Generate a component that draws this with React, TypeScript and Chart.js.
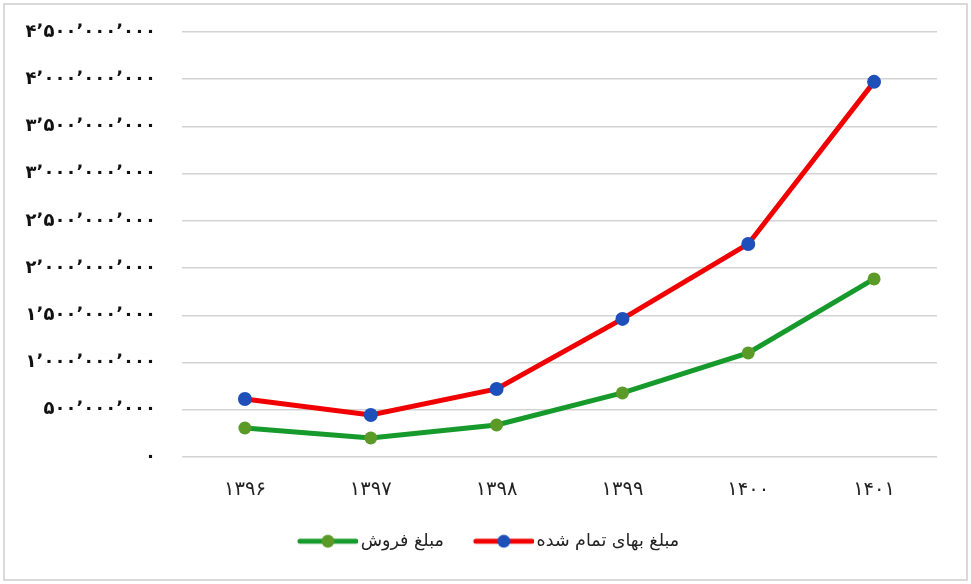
import { useEffect, useRef } from "react";
import { Chart, registerables } from "chart.js";

Chart.register(...registerables);

const categories = ["۱۳۹۶", "۱۳۹۷", "۱۳۹۸", "۱۳۹۹", "۱۴۰۰", "۱۴۰۱"];
const costValues = [614e6, 445e6, 720e6, 1462e6, 2256e6, 3972e6];
const salesValues = [307e6, 201e6, 339e6, 678e6, 1102e6, 1886e6];
const seriesLabels = ["مبلغ بهای تمام شده", "مبلغ فروش"];
const yMax = 4.5e9;
const yStep = 5e8;

const persianDigits = "۰۱۲۳۴۵۶۷۸۹";
function toPersian(n: number): string {
  const s = Math.round(n)
    .toString()
    .replace(/\B(?=(\d{3})+(?!\d))/g, "٬");
  return s.replace(/\d/g, (d) => persianDigits[+d]);
}

function makeLegendSymbol(lineColor: string, dotColor: string): HTMLCanvasElement {
  const c = document.createElement("canvas");
  c.width = 72;
  c.height = 16;
  const ctx = c.getContext("2d")!;
  ctx.strokeStyle = lineColor;
  ctx.lineWidth = 5;
  ctx.lineCap = "round";
  ctx.beginPath();
  ctx.moveTo(14, 8);
  ctx.lineTo(70, 8);
  ctx.stroke();
  ctx.fillStyle = dotColor;
  ctx.beginPath();
  ctx.arc(42, 8, 6.5, 0, Math.PI * 2);
  ctx.fill();
  return c;
}

export default function App() {
  const canvasRef = useRef<HTMLCanvasElement | null>(null);

  useEffect(() => {
    if (!canvasRef.current) return;
    const redLine = "#f00000";
    const blueDot = "#1f4fb8";
    const greenLine = "#179a2c";
    const greenDot = "#5b9a26";
    const symbols = [makeLegendSymbol(redLine, blueDot), makeLegendSymbol(greenLine, greenDot)];

    const chart = new Chart(canvasRef.current, {
      type: "line",
      data: {
        labels: categories,
        datasets: [
          {
            label: seriesLabels[0],
            data: costValues,
            borderColor: redLine,
            backgroundColor: blueDot,
            pointBackgroundColor: blueDot,
            pointBorderColor: blueDot,
            borderWidth: 5,
            pointRadius: 7,
            pointBorderWidth: 0,
            tension: 0,
          },
          {
            label: seriesLabels[1],
            data: salesValues,
            borderColor: greenLine,
            backgroundColor: greenDot,
            pointBackgroundColor: greenDot,
            pointBorderColor: greenDot,
            borderWidth: 5,
            pointRadius: 6.5,
            pointBorderWidth: 0,
            tension: 0,
          },
        ],
      },
      options: {
        animation: false,
        responsive: true,
        maintainAspectRatio: false,
        layout: { padding: { top: 32, right: 0, left: 0, bottom: 24 } },
        plugins: {
          tooltip: { enabled: false },
          legend: {
            position: "bottom",
            reverse: true,
            labels: {
              usePointStyle: true,
              pointStyleWidth: 60,
              padding: 24,
              color: "#222",
              font: { family: "DejaVu Sans", size: 17.5 },
              generateLabels: (ch: any) =>
                ch.data.datasets.map((ds: any, i: number) => ({
                  text: ds.label,
                  pointStyle: symbols[i],
                  fillStyle: ds.borderColor,
                  strokeStyle: ds.borderColor,
                  lineWidth: 0,
                  hidden: false,
                  datasetIndex: i,
                  fontColor: "#222",
                })),
            },
          },
        },
        scales: {
          x: {
            offset: true,
            grid: { display: false, drawTicks: false },
            border: { display: false },
            ticks: {
              padding: 21,
              color: "#222",
              font: { family: "DejaVu Sans", size: 19.5 },
            },
            afterFit: (scale: any) => {
              scale.height = 51.5;
            },
          },
          y: {
            min: 0,
            max: yMax,
            grid: { color: "#d3d3d3", lineWidth: 1.5, drawTicks: false },
            border: { display: false },
            ticks: {
              stepSize: yStep,
              padding: 26,
              color: "#111",
              font: { family: "DejaVu Sans", size: 18, weight: "bold" },
              callback: (v: any) => toPersian(Number(v)),
            },
            afterFit: (scale: any) => {
              scale.width = 182;
              scale.paddingTop = 0;
              scale.paddingBottom = 0;
            },
          },
          yRightGap: {
            position: "right",
            display: true,
            grid: { display: false, drawTicks: false },
            border: { display: false },
            ticks: { display: false },
            afterFit: (scale: any) => {
              scale.width = 34;
              scale.paddingTop = 0;
              scale.paddingBottom = 0;
            },
          },
        },
      },
    });
    return () => chart.destroy();
  }, []);

  return (
    <div style={{ position: "fixed", left: 0, top: 0, width: 971, height: 584, background: "#fff" }}>
      <canvas ref={canvasRef} />
      <div
        style={{
          position: "absolute",
          left: 3,
          top: 3,
          width: 965,
          height: 578,
          border: "2px solid #d9d9d9",
          boxSizing: "border-box",
          pointerEvents: "none",
        }}
      />
    </div>
  );
}
